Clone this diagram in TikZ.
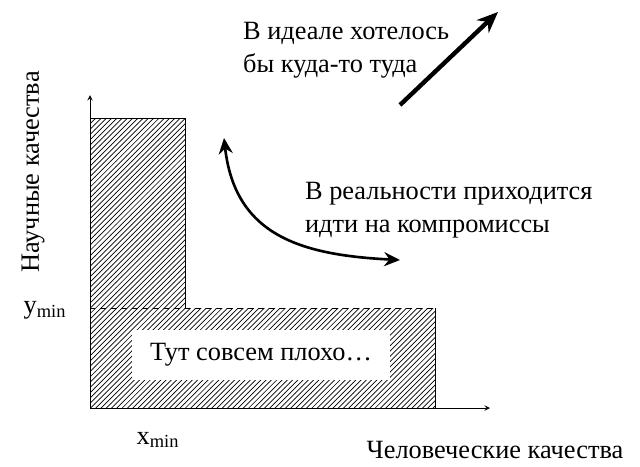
\documentclass[tikz,border=0pt]{standalone}
\usepackage{fontspec}
\setmainfont{Liberation Serif}
\usetikzlibrary{patterns,arrows.meta}
\tikzset{hatch/.style={pattern=north east lines},
  lbl/.style={font=\fontsize{15}{19}\selectfont,align=left,inner sep=1pt}}
\begin{document}
\begin{tikzpicture}[x=0.02cm,y=-0.02cm]
\useasboundingbox (0,0) rectangle (640,467);
% hatched regions
\fill[hatch] (90,118) rectangle (185,408);
\fill[hatch] (185,308) rectangle (435,408);
\draw (90,118) -- (185,118) -- (185,308);
\draw[dashed] (90,308) -- (435,308);
\draw (435,308) -- (435,408);
\node[lbl,fill=white,minimum width=258*0.02cm,minimum height=50*0.02cm] (bad) at (261,355) {Тут совсем плохо…};
% axes
\coordinate (o) at (90,408);
\coordinate (ytop) at (90,95);
\coordinate (xend) at (490,408);
\draw[->,>=stealth] (o) -- (ytop);
\draw[->,>=stealth] (o) -- (xend);
\node[lbl,rotate=90] (ylab) at (33,172) {Научные качества};
\node[lbl] (xlab) at (495,450) {Человеческие качества};
\node[lbl] (ymin) at (45,310) {y\textsubscript{min}};
\node[lbl] (xmin) at (158,440) {x\textsubscript{min}};
% arrows
\coordinate (ia) at (400,105);
\coordinate (ib) at (498,12);
\draw[line width=2.5pt,-{Stealth[length=12pt,width=10pt]}] (ia) -- (ib);
\node[lbl,anchor=north west] (ideal) at (241,20) {В идеале хотелось\\бы куда-то туда};
\coordinate (ca) at (224,138);
\coordinate (cb) at (400,260);
\draw[line width=1.5pt,{Stealth[length=9pt,width=8pt]}-{Stealth[length=9pt,width=8pt]}] (ca) .. controls (235,235) and (300,255) .. (cb);
\node[lbl,anchor=north west] (real) at (303,180) {В реальности приходится\\идти на компромиссы};
\end{tikzpicture}
\end{document}
